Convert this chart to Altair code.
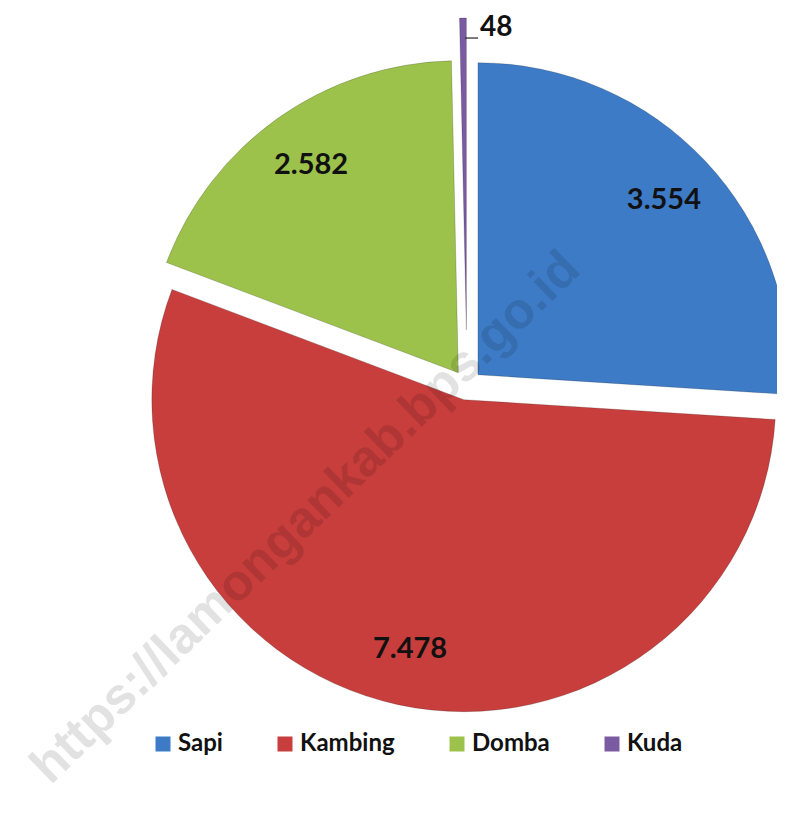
import altair as alt
import pandas as pd

categories = ["Sapi", "Kambing", "Domba", "Kuda"]
values = [3554, 7478, 2582, 48]
labels = ["3.554", "7.478", "2.582", "48"]
colors = ["#3D7BC6", "#C73E3C", "#9CC24C", "#7A5AA3"]
watermark = "https://lamongankab.bps.go.id"

df = pd.DataFrame({"cat": categories, "value": values, "label": labels,
                   "order": list(range(len(categories)))})

W, H = 769, 799
CX, CY, R = 459, 377, 312

base = alt.Chart(df).transform_joinaggregate(
    total="sum(value)"
).transform_window(
    cum="sum(value)", sort=[alt.SortField("order")], frame=[None, 0]
).transform_calculate(
    start="2*PI*(datum.cum - datum.value)/datum.total",
    end="2*PI*datum.cum/datum.total",
).transform_calculate(
    mid="(datum.start + datum.end)/2",
    explode="datum.cat == 'Kuda' ? 55 : 15",
).transform_calculate(
    cx=f"{CX} + datum.explode*sin(datum.mid)",
    cy=f"{CY} - datum.explode*cos(datum.mid)",
).transform_calculate(
    lr="datum.cat == 'Kuda' ? 302 : 255",
).transform_calculate(
    lx="datum.cx + datum.lr*sin(datum.mid)",
    ly="datum.cy - datum.lr*cos(datum.mid)",
)

color = alt.Color(
    "cat:N",
    scale=alt.Scale(domain=categories, range=colors),
    sort=categories,
    legend=alt.Legend(
        title=None, orient="none", legendX=143, legendY=724,
        direction="horizontal", columns=4, symbolType="square",
        symbolSize=225, symbolStrokeWidth=0, labelFont="Lato",
        labelFontSize=24, labelFontWeight="bold", labelColor="#111111",
        columnPadding=50, labelOffset=3,
    ),
)

arcs = base.mark_arc(radius=R, stroke="#000000", strokeOpacity=0.18, strokeWidth=1).encode(
    theta=alt.Theta("start:Q", scale=None, stack=None),
    theta2="end:Q",
    x=alt.X("cx:Q", scale=None, axis=None),
    y=alt.Y("cy:Q", scale=None, axis=None),
    color=color,
)

wm = alt.Chart(alt.Data(values=[{"t": watermark}])).mark_text(
    font="Liberation Sans", fontWeight="bold", fontSize=51, angle=316,
    align="center", baseline="middle", color="#000000", opacity=0.11,
).encode(
    text="t:N", x=alt.value(298), y=alt.value(510)
)

inner = base.transform_filter("datum.cat != 'Kuda'").mark_text(
    font="Lato", fontWeight="bold", fontSize=29, color="#111111",
    align="center", baseline="middle",
).encode(
    x=alt.X("lx:Q", scale=None), y=alt.Y("ly:Q", scale=None), text="label:N"
)

outer = base.transform_filter("datum.cat == 'Kuda'").mark_text(
    font="Lato", fontWeight="bold", fontSize=28, color="#111111",
    align="left", baseline="middle", dx=17,
).encode(
    x=alt.X("lx:Q", scale=None), y=alt.Y("ly:Q", scale=None), text="label:N"
)

leader = base.transform_filter("datum.cat == 'Kuda'").transform_calculate(
    x1="datum.lx + 2", x2="datum.lx + 15", yl="datum.ly + 10"
).mark_rule(color="#222222", strokeWidth=1.2).encode(
    x=alt.X("x1:Q", scale=None), x2="x2:Q", y=alt.Y("yl:Q", scale=None)
)

chart = alt.layer(arcs, wm, inner, outer, leader).properties(
    width=W, height=H, autosize=alt.AutoSizeParams(type="none"), padding=0,
    background="#ffffff",
).configure_view(stroke=None)

chart.save("out.html", embed_options={"renderer": "svg", "actions": False})
